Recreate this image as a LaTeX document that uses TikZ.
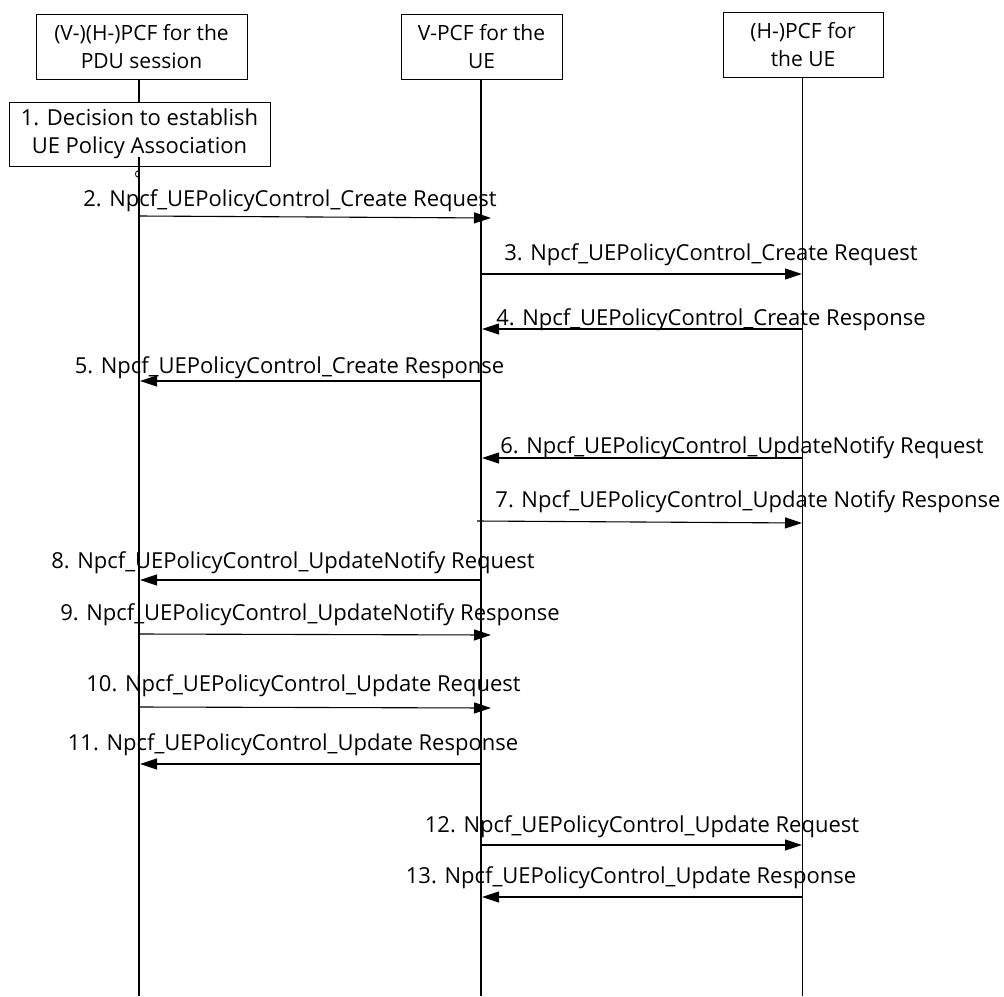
\documentclass[tikz,border=0pt]{standalone}
\usepackage{fontspec}
\setmainfont{Open Sans}
\usetikzlibrary{arrows.meta}
\begin{document}
\begin{tikzpicture}[x=1pt,y=-1pt,
  hdr/.style={draw, line width=1pt, fill=white, inner sep=0pt, align=center, font=\fontsize{21}{28}\selectfont},
  stepbox/.style={hdr, font=\fontsize{22}{28}\selectfont},
  lbl/.style={anchor=base, inner sep=0pt, font=\fontsize{22}{28}\selectfont},
  life/.style={line width=1.1pt},
  msg/.style={line width=1.1pt, -{Triangle[length=17pt,width=11pt]}}]
\useasboundingbox (0,0) rectangle (1004,996);
% lifeline ends
\coordinate (e1) at (139,996);
\coordinate (e2) at (481,996);
\coordinate (e3) at (802.5,996);
\coordinate (s1in) at (139,157);
% lifelines
\draw[life] (139,79) -- (139,102);
\draw[life] (s1in) -- (e1);
\draw[life] (481,79) -- (e2);
\draw[life] (802.5,77) -- (e3);
% header boxes
\node[hdr, minimum width=211pt, minimum height=65pt] (h1) at (141.5,46.5) {(V-)(H-)PCF for the\\PDU session};
\node[hdr, minimum width=161pt, minimum height=65pt] (h2) at (481.5,46.5) {V-PCF for the\\UE};
\node[hdr, minimum width=160pt, minimum height=65pt] (h3) at (803,44.5) {(H-)PCF for\\the UE};
% step 1
\node[stepbox, fill=none, minimum width=261pt, minimum height=64pt] (s1) at (139.5,134) {1. Decision to establish\\UE Policy Association};
\draw[line width=0.8pt] (137.5,174) ellipse (2 and 3);
% message end points
\coordinate (a2) at (139,216);   \coordinate (b2) at (491,218);
\coordinate (a3) at (481,274);   \coordinate (b3) at (802,274);
\coordinate (a4) at (802,329);   \coordinate (b4) at (482,329);
\coordinate (a5) at (481,381);   \coordinate (b5) at (140,381);
\coordinate (a6) at (802,458);   \coordinate (b6) at (482,458);
\coordinate (a7) at (477,521);   \coordinate (b7) at (802,523);
\coordinate (a8) at (481,580);   \coordinate (b8) at (140,580);
\coordinate (a9) at (139,634);   \coordinate (b9) at (491,635);
\coordinate (a10) at (139,707);  \coordinate (b10) at (491,708);
\coordinate (a11) at (481,764);  \coordinate (b11) at (140,764);
\coordinate (a12) at (481,845);  \coordinate (b12) at (802,845);
\coordinate (a13) at (802,897);  \coordinate (b13) at (482,897);
\foreach \i in {2,...,13} {\draw[msg] (a\i) -- (b\i);}
% labels
\node[lbl] (l2) at (290,206) {2. Npcf\_UEPolicyControl\_Create Request};
\node[lbl] (l3) at (711,260) {3. Npcf\_UEPolicyControl\_Create Request};
\node[lbl] (l4) at (711,325) {4. Npcf\_UEPolicyControl\_Create Response};
\node[lbl] (l5) at (289.5,373) {5. Npcf\_UEPolicyControl\_Create Response};
\node[lbl] (l6) at (742,453) {6. Npcf\_UEPolicyControl\_UpdateNotify Request};
\node[lbl] (l7) at (748,507) {7. Npcf\_UEPolicyControl\_Update Notify Response};
\node[lbl] (l8) at (293,568) {8. Npcf\_UEPolicyControl\_UpdateNotify Request};
\node[lbl] (l9) at (310,620) {9. Npcf\_UEPolicyControl\_UpdateNotify Response};
\node[lbl] (l10) at (303.5,691) {10. Npcf\_UEPolicyControl\_Update Request};
\node[lbl] (l11) at (293,750) {11. Npcf\_UEPolicyControl\_Update Response};
\node[lbl] (l12) at (642,832) {12. Npcf\_UEPolicyControl\_Update Request};
\node[lbl] (l13) at (631,883) {13. Npcf\_UEPolicyControl\_Update Response};
\end{tikzpicture}
\end{document}
